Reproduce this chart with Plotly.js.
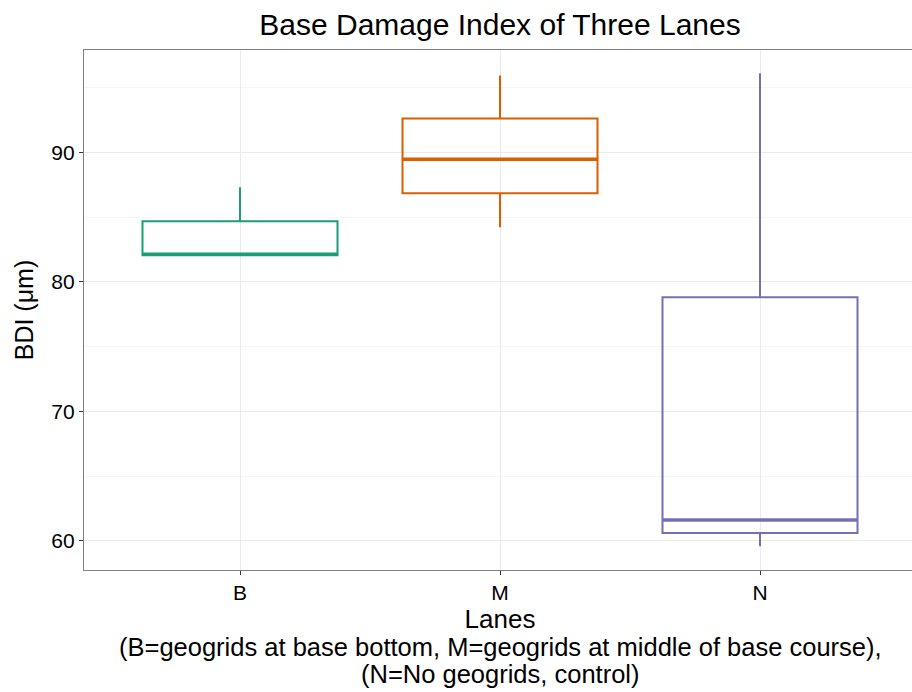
<!DOCTYPE html>
<html><head><meta charset="utf-8">
<script src="https://cdn.plot.ly/plotly-3.0.1.min.js"></script>
<style>html,body{margin:0;padding:0;overflow:hidden;background:#fff}</style>
</head><body><div id="chart"></div>
<script>
const lanes = ["B", "M", "N"];
const lowerWhisker = [82.06, 84.22, 59.6];
const q1 = [82.06, 86.84, 60.62];
const median = [82.14, 89.46, 61.62];
const q3 = [84.68, 92.62, 78.82];
const upperWhisker = [87.3, 95.94, 96.1];
const colors = ["#1b9e77", "#d95f02", "#7570b3"];
const yTicks = [60, 70, 80, 90];
const captionLines = ["(B=geogrids at base bottom, M=geogrids at middle of base course),", "(N=No geogrids, control)"];

const traces = lanes.map((l, i) => ({
  type: "box",
  x: [l],
  q1: [q1[i]], median: [median[i]], q3: [q3[i]],
  lowerfence: [lowerWhisker[i]], upperfence: [upperWhisker[i]],
  width: 0.75,
  whiskerwidth: 0,
  fillcolor: "rgba(255,255,255,0)",
  line: {color: colors[i], width: 2},
  boxpoints: false,
  hoverinfo: "skip",
  showlegend: false
}));

const shapes = lanes.map((l, i) => ({
  type: "line", xref: "x", yref: "y",
  x0: i - 0.375, x1: i + 0.375, y0: median[i], y1: median[i],
  line: {color: colors[i], width: 3.5}
}));

const font = "Liberation Sans, Arial, sans-serif";
const annotations = captionLines.map((t, i) => ({
  text: t, xref: "paper", yref: "paper", x: 0.5, y: -0.1479 - i * 0.0519,
  xanchor: "center", yanchor: "middle", showarrow: false, borderpad: 0,
  font: {size: 25.5, color: "#000", family: font}
}));

const layout = {
  width: 916, height: 692,
  margin: {l: 84, r: 0, t: 49.5, b: 122},
  paper_bgcolor: "#fff", plot_bgcolor: "#fff",
  font: {family: font, color: "#000"},
  title: {text: "Base Damage Index of Three Lanes", x: 500 / 916, xanchor: "center", y: 1 - 24 / 692, yanchor: "middle", font: {size: 30, family: font, color: "#000"}},
  xaxis: {
    type: "category", categoryorder: "array", categoryarray: lanes,
    range: [-0.6, 2.6],
    showgrid: true, gridcolor: "#ebebeb", gridwidth: 1,
    showline: true, linecolor: "#7f7f7f", linewidth: 1.2, mirror: true,
    ticks: "outside", ticklen: 4, tickcolor: "#333", tickwidth: 1,
    tickfont: {size: 21, color: "#000", family: font},
    zeroline: false, automargin: false,
    title: {text: "Lanes", font: {size: 26, color: "#000", family: font}, standoff: 3}
  },
  yaxis: {
    range: [57.76, 97.9],
    tickvals: yTicks, ticktext: yTicks.map(String),
    showgrid: true, gridcolor: "#ebebeb", gridwidth: 1,
    minor: {tickvals: [65, 75, 85, 95], showgrid: true, gridcolor: "#f6f6f6", gridwidth: 1, ticks: ""},
    showline: true, linecolor: "#7f7f7f", linewidth: 1.2, mirror: true,
    ticks: "outside", ticklen: 4, tickcolor: "#333", tickwidth: 1,
    tickfont: {size: 21, color: "#000", family: font},
    zeroline: false, automargin: false,
    title: {text: "BDI (μm)", font: {size: 25, color: "#000", family: font}, standoff: 10}
  },
  shapes: shapes,
  annotations: annotations
};

Plotly.newPlot("chart", traces, layout, {displayModeBar: false, staticPlot: true});
</script></body></html>
